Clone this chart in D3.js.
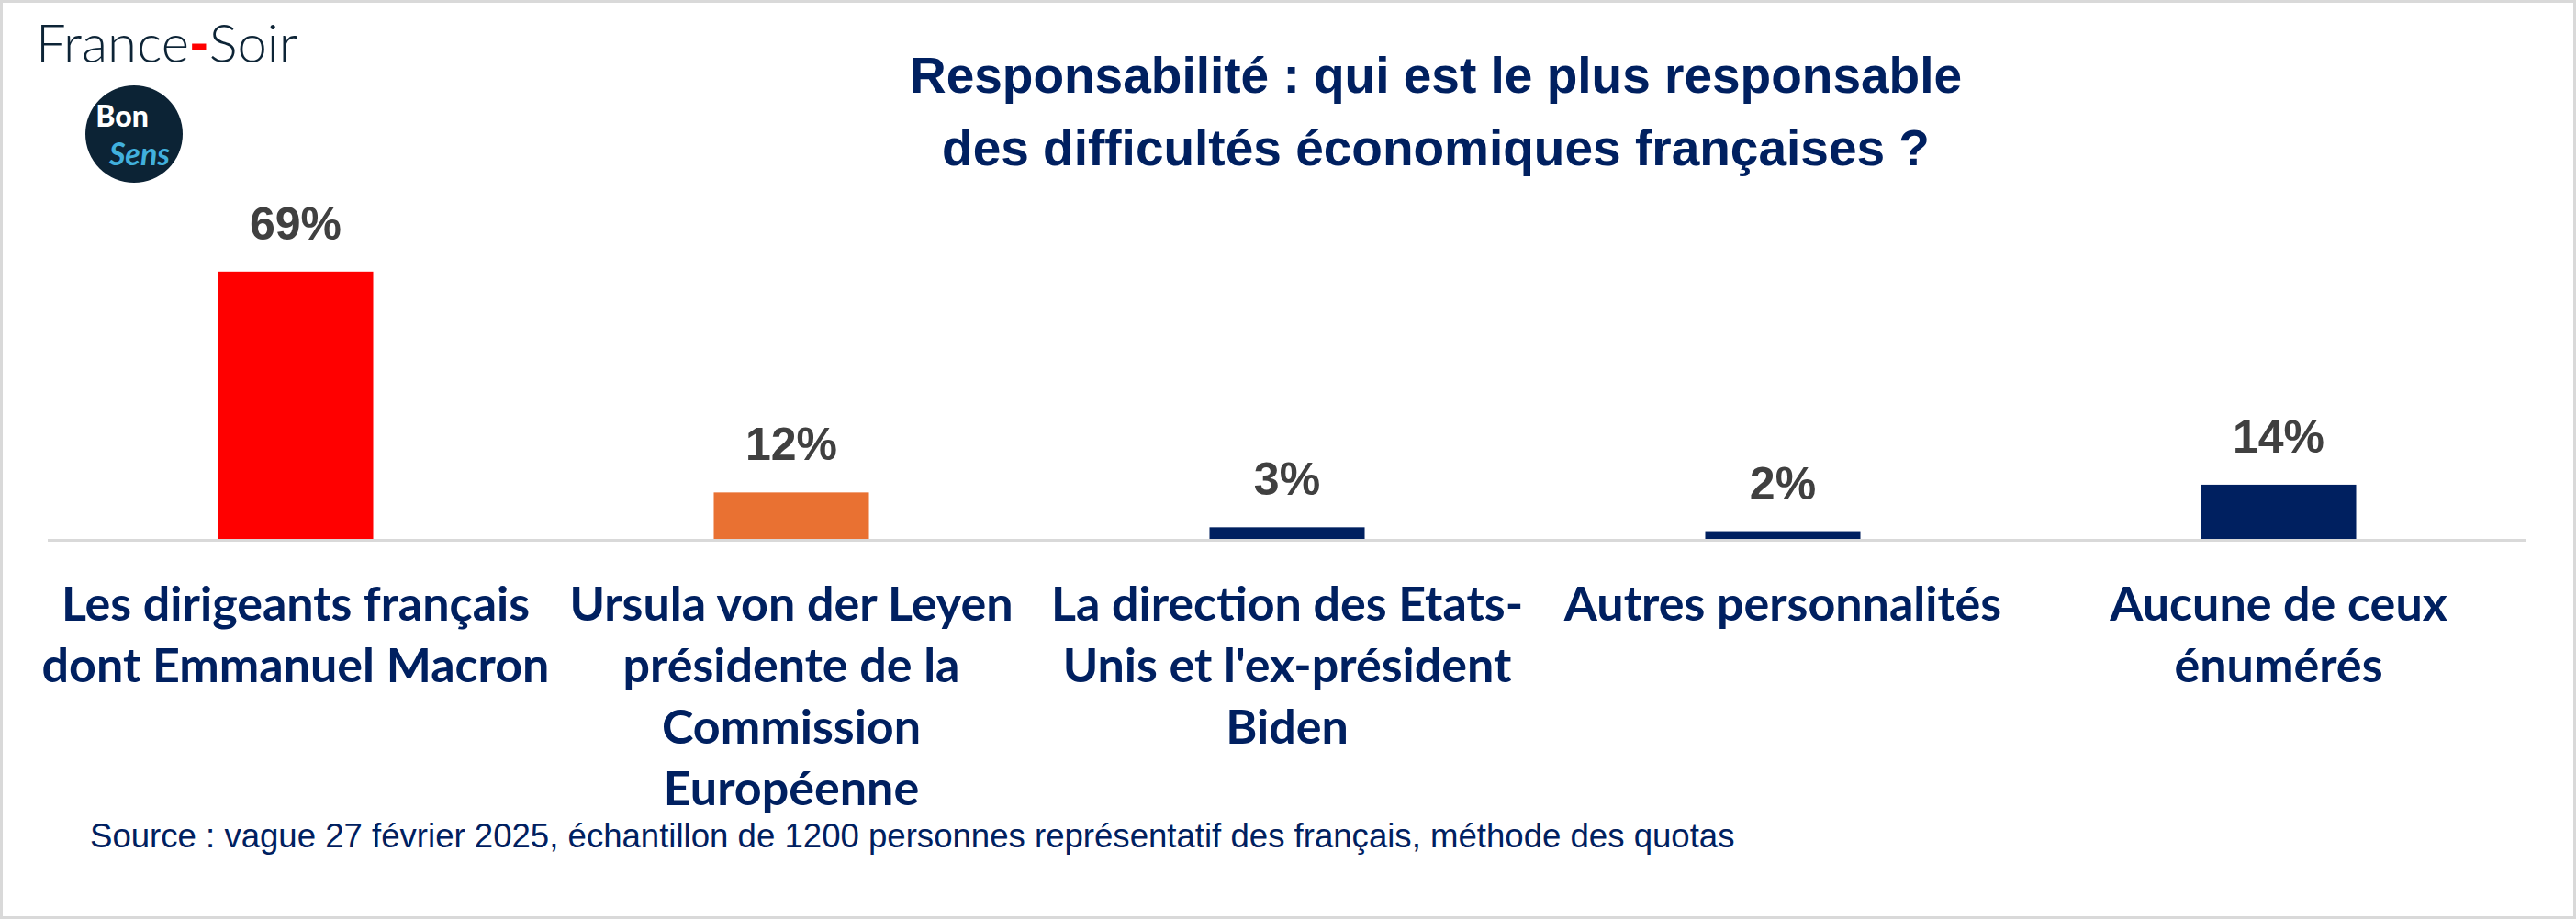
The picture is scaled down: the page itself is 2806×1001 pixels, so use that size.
<!DOCTYPE html>
<html><head><meta charset="utf-8">
<script src="https://cdn.jsdelivr.net/npm/d3@7"></script>
<style>html,body{margin:0;padding:0;background:#fff;}svg{display:block;}</style>
</head><body>
<script>
const categories = [
  "Les dirigeants français dont Emmanuel Macron",
  "Ursula von der Leyen présidente de la Commission Européenne",
  "La direction des Etats-Unis et l'ex-président Biden",
  "Autres personnalités",
  "Aucune de ceux énumérés"
];
const categoryLines = [
  ["Les dirigeants français", "dont Emmanuel Macron"],
  ["Ursula von der Leyen", "présidente de la", "Commission", "Européenne"],
  ["La direction des Etats-", "Unis et l'ex-président", "Biden"],
  ["Autres personnalités"],
  ["Aucune de ceux", "énumérés"]
];
const values = [69, 12, 3, 2, 14];
const barColors = ["#ff0000", "#e97132", "#002060", "#002060", "#002060"];
const titleLines = ["Responsabilité : qui est le plus responsable", "des difficultés économiques françaises ?"];
const sourceText = "Source : vague 27 février 2025, échantillon de 1200 personnes représentatif des français, méthode des quotas";

const W = 2806, H = 1001;
const svg = d3.select("body").append("svg").attr("width", W).attr("height", H);

svg.append("rect").attr("x", 1.5).attr("y", 1.5).attr("width", W - 3).attr("height", H - 3)
  .attr("fill", "#fff").attr("stroke", "#d9d9d9").attr("stroke-width", 3);

const x = d3.scaleBand().domain(categories).range([52, 2752]).paddingInner(0.687).paddingOuter(0.3435);
const y = d3.scaleLinear().domain([0, 100]).range([587, 165]);

// axis line
svg.append("line").attr("x1", 52).attr("x2", 2752).attr("y1", 588.6).attr("y2", 588.6)
  .attr("stroke", "#d9d9d9").attr("stroke-width", 3);

// bars
svg.selectAll("rect.bar").data(values).join("rect").attr("class", "bar")
  .attr("x", (d, i) => x(categories[i]))
  .attr("width", x.bandwidth())
  .attr("y", d => y(d))
  .attr("height", d => y(0) - y(d))
  .attr("fill", (d, i) => barColors[i]);

// value labels
svg.selectAll("text.val").data(values).join("text").attr("class", "val")
  .attr("x", (d, i) => x(categories[i]) + x.bandwidth() / 2)
  .attr("y", d => y(d) - 35)
  .attr("text-anchor", "middle")
  .attr("font-family", "'Liberation Sans', Arial, sans-serif")
  .attr("font-weight", "bold").attr("font-size", 50).attr("fill", "#404040")
  .text(d => d + "%");

// category labels
categoryLines.forEach((lines, i) => {
  const t = svg.append("text")
    .attr("text-anchor", "middle")
    .attr("font-family", "Lato, 'Liberation Sans', sans-serif")
    .attr("font-weight", 700).attr("font-size", 52).attr("fill", "#002060");
  lines.forEach((ln, j) => {
    t.append("tspan").attr("x", x(categories[i]) + x.bandwidth() / 2)
      .attr("y", 676 + j * 67).text(ln);
  });
});

// title
const title = svg.append("text").attr("text-anchor", "middle")
  .attr("font-family", "'Liberation Sans', Arial, sans-serif")
  .attr("font-weight", "bold").attr("font-size", 55).attr("fill", "#002060");
titleLines.forEach((ln, j) => {
  title.append("tspan").attr("x", 1564).attr("y", 101 + j * 79).text(ln);
});

// source
svg.append("text").attr("x", 98).attr("y", 923)
  .attr("font-family", "'Liberation Sans', Arial, sans-serif")
  .attr("font-size", 36.6).attr("fill", "#002060").text(sourceText);

// logos
const fs = svg.append("text").attr("x", 39).attr("y", 68)
  .attr("font-family", "Lato, sans-serif").attr("font-weight", 300)
  .attr("font-size", 58).attr("fill", "#0d2436");
fs.append("tspan").text("France");
fs.append("tspan").attr("fill", "#ff0000").attr("font-weight", 900).text("-");
fs.append("tspan").text("Soir");

svg.append("circle").attr("cx", 146).attr("cy", 146).attr("r", 53).attr("fill", "#0c2335");
svg.append("text").attr("x", 133).attr("y", 138).attr("text-anchor", "middle")
  .attr("font-family", "Lato, sans-serif").attr("font-weight", 900)
  .attr("font-size", 32).attr("fill", "#ffffff").text("Bon");
svg.append("text").attr("x", 152).attr("y", 180).attr("text-anchor", "middle")
  .attr("font-family", "Lato, sans-serif").attr("font-style", "italic").attr("font-weight", 700)
  .attr("font-size", 34).attr("fill", "#41b0dd").text("Sens");
</script>
</body></html>
